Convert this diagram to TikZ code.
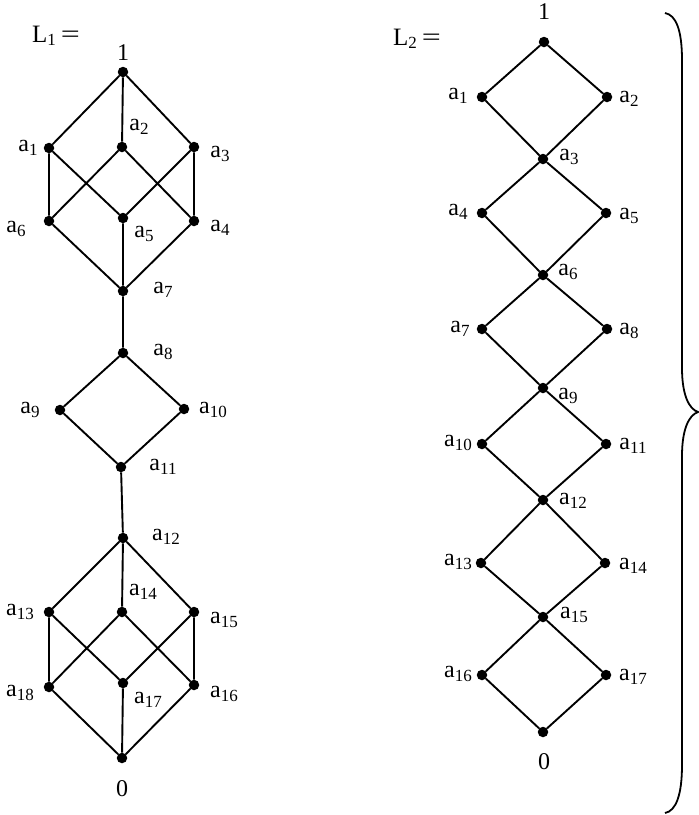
\documentclass[tikz,border=0pt]{standalone}
\usepackage{fontspec}
\setmainfont{Liberation Serif}
\newcommand\lsub[2]{#1\raisebox{-3.5pt}{\fontsize{17}{17}\selectfont #2}}
\newcommand\Lhead[1]{\lsub{L}{#1}\hspace{5pt}\scalebox{1.35}[1]{=}}
\begin{document}
\begin{tikzpicture}[x=1pt,y=-1pt,
  dot/.style={circle,fill=black,inner sep=0,minimum size=10.5pt},
  lbl/.style={inner sep=0,font=\fontsize{24}{24}\selectfont},
  head/.style={inner sep=0,font=\fontsize{25}{25}\selectfont},
  edge/.style={line width=1.9pt},
  bracestyle/.style={line width=1.8pt}]
\useasboundingbox (0,0) rectangle (699,815);
% ---------- L1 ----------
\node[head] (L1) at (56,36) {\Lhead{1}};
\node[dot] (t1) at (123,72) {};
\node[dot] (p1) at (49,148) {};
\node[dot] (p2) at (122,147) {};
\node[dot] (p3) at (194,147) {};
\node[dot] (p6) at (49,221) {};
\node[dot] (p5) at (123,218) {};
\node[dot] (p4) at (194,221) {};
\node[dot] (p7) at (123,291) {};
\node[dot] (p8) at (123,353) {};
\node[dot] (p9) at (60,410) {};
\node[dot] (p10) at (184,409) {};
\node[dot] (p11) at (121,467) {};
\node[dot] (p12) at (123,538) {};
\node[dot] (p13) at (49,612) {};
\node[dot] (p14) at (122,612) {};
\node[dot] (p15) at (194,612) {};
\node[dot] (p18) at (49,687) {};
\node[dot] (p17) at (123,683) {};
\node[dot] (p16) at (194,685) {};
\node[dot] (b0) at (122,758) {};
\draw[edge] (t1)--(p1) (t1)--(p2) (t1)--(p3)
  (p1)--(p6) (p1)--(p5) (p2)--(p6) (p2)--(p4) (p3)--(p5) (p3)--(p4)
  (p6)--(p7) (p5)--(p7) (p4)--(p7)
  (p7)--(p8) (p8)--(p9) (p8)--(p10) (p9)--(p11) (p10)--(p11) (p11)--(p12)
  (p12)--(p13) (p12)--(p14) (p12)--(p15)
  (p13)--(p18) (p13)--(p17) (p14)--(p18) (p14)--(p16) (p15)--(p17) (p15)--(p16)
  (p18)--(b0) (p17)--(b0) (p16)--(b0);
\node[lbl] (lt1) at (123,53) {1};
\node[lbl] (l1) at (28,148) {\lsub{a}{1}};
\node[lbl] (l2) at (139,127) {\lsub{a}{2}};
\node[lbl] (l3) at (220,154) {\lsub{a}{3}};
\node[lbl] (l6) at (16,229) {\lsub{a}{6}};
\node[lbl] (l5) at (144,234) {\lsub{a}{5}};
\node[lbl] (l4) at (220,228) {\lsub{a}{4}};
\node[lbl] (l7) at (163,290) {\lsub{a}{7}};
\node[lbl] (l8) at (163,352) {\lsub{a}{8}};
\node[lbl] (l9) at (30,410) {\lsub{a}{9}};
\node[lbl] (l10) at (213,410) {\lsub{a}{10}};
\node[lbl] (l11) at (163,467) {\lsub{a}{11}};
\node[lbl] (l12) at (166,537) {\lsub{a}{12}};
\node[lbl] (l14) at (143,592) {\lsub{a}{14}};
\node[lbl] (l13) at (20,612) {\lsub{a}{13}};
\node[lbl] (l15) at (224,620) {\lsub{a}{15}};
\node[lbl] (l18) at (20,693) {\lsub{a}{18}};
\node[lbl] (l17) at (148,700) {\lsub{a}{17}};
\node[lbl] (l16) at (224,694) {\lsub{a}{16}};
\node[lbl] (lb0) at (122,789) {0};
% ---------- L2 ----------
\node[head] (L2) at (417,39) {\Lhead{2}};
\node[dot] (qt) at (544,42) {};
\node[dot] (q1) at (482,97) {};
\node[dot] (q2) at (607,97) {};
\node[dot] (q3) at (543,159) {};
\node[dot] (q4) at (482,213) {};
\node[dot] (q5) at (606,213) {};
\node[dot] (q6) at (543,275) {};
\node[dot] (q7) at (482,329) {};
\node[dot] (q8) at (607,329) {};
\node[dot] (q9) at (543,388) {};
\node[dot] (q10) at (482,444) {};
\node[dot] (q11) at (606,444) {};
\node[dot] (q12) at (543,500) {};
\node[dot] (q13) at (481,563) {};
\node[dot] (q14) at (605,563) {};
\node[dot] (q15) at (543,617) {};
\node[dot] (q16) at (482,675) {};
\node[dot] (q17) at (606,675) {};
\node[dot] (q0) at (543,732) {};
\draw[edge] (qt)--(q1) (qt)--(q2) (q1)--(q3) (q2)--(q3)
  (q3)--(q4) (q3)--(q5) (q4)--(q6) (q5)--(q6)
  (q6)--(q7) (q6)--(q8) (q7)--(q9) (q8)--(q9)
  (q9)--(q10) (q9)--(q11) (q10)--(q12) (q11)--(q12)
  (q12)--(q13) (q12)--(q14) (q13)--(q15) (q14)--(q15)
  (q15)--(q16) (q15)--(q17) (q16)--(q0) (q17)--(q0);
\node[lbl] (mt) at (544,12) {1};
\node[lbl] (m1) at (458,96) {\lsub{a}{1}};
\node[lbl] (m2) at (629,99) {\lsub{a}{2}};
\node[lbl] (m3) at (569,157) {\lsub{a}{3}};
\node[lbl] (m4) at (458,212) {\lsub{a}{4}};
\node[lbl] (m5) at (629,216) {\lsub{a}{5}};
\node[lbl] (m6) at (568,272) {\lsub{a}{6}};
\node[lbl] (m7) at (460,329) {\lsub{a}{7}};
\node[lbl] (m8) at (629,331) {\lsub{a}{8}};
\node[lbl] (m9) at (568,396) {\lsub{a}{9}};
\node[lbl] (m10) at (458,443) {\lsub{a}{10}};
\node[lbl] (m11) at (633,446) {\lsub{a}{11}};
\node[lbl] (m12) at (573,501) {\lsub{a}{12}};
\node[lbl] (m13) at (458,562) {\lsub{a}{13}};
\node[lbl] (m14) at (633,566) {\lsub{a}{14}};
\node[lbl] (m15) at (574,615) {\lsub{a}{15}};
\node[lbl] (m16) at (458,674) {\lsub{a}{16}};
\node[lbl] (m17) at (633,677) {\lsub{a}{17}};
\node[lbl] (m0) at (544,762) {0};
% ---------- brace ----------
\draw[bracestyle] (665,13) .. controls (676,15) and (682,30) .. (682,60)
  -- (682,368) .. controls (682,395) and (689,409) .. (698,412)
  .. controls (689,415) and (682,429) .. (682,456)
  -- (682,765) .. controls (682,795) and (676,811) .. (665,813);
\end{tikzpicture}
\end{document}
